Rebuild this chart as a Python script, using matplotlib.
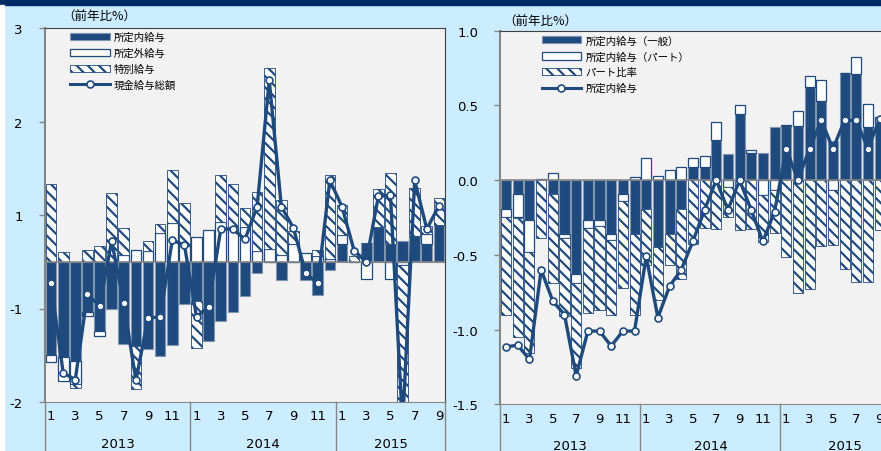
import numpy as np
import matplotlib.pyplot as plt
from matplotlib.patches import Patch, Rectangle
from matplotlib.lines import Line2D

plt.rcParams['font.family'] = ['DejaVu Sans', 'Noto Sans CJK JP']
plt.rcParams['hatch.linewidth'] = 1.6

# ---- data (left: 現金給与総額の要因分解, 2013/1 - 2015/9) ----
years = ['2013', '2014', '2015']
months = [m for m in range(1, 13)] * 2 + list(range(1, 10))

l_regular = [-1.00, -1.02, -1.06, -0.54, -0.74, -0.51, -0.88, -0.90, -0.93, -1.01, -0.89, -0.45,
             -0.42, -0.85, -0.63, -0.54, -0.37, -0.12, 0.00, -0.19, 0.00, -0.19, -0.36, -0.09,
             0.19, 0.00, 0.20, 0.37, 0.19, 0.22, 0.28, 0.19, 0.39]
l_overtime = [-0.07, -0.26, -0.25, -0.04, -0.05, 0.00, 0.07, 0.13, 0.12, 0.31, 0.41, 0.17,
              0.26, 0.34, 0.43, 0.37, 0.37, 0.11, 0.14, 0.07, 0.19, 0.09, 0.06, 0.03,
              0.10, 0.00, -0.18, 0.00, -0.18, -0.04, 0.00, 0.11, 0.00]
l_bonus = [0.83, 0.10, -0.04, 0.13, 0.17, 0.73, 0.29, -0.46, 0.10, 0.09, 0.57, 0.46,
           -0.50, 0.00, 0.50, 0.46, 0.21, 0.64, 1.93, 0.59, 0.14, 0.00, 0.07, 0.90,
           0.32, 0.06, 0.00, 0.41, 0.76, -1.70, 0.51, 0.08, 0.29]
l_total = [-0.23, -1.19, -1.26, -0.35, -0.47, 0.22, -0.44, -1.27, -0.60, -0.59, 0.23, 0.18,
           -0.59, -0.48, 0.35, 0.35, 0.24, 0.59, 1.94, 0.59, 0.36, -0.12, -0.23, 0.87,
           0.59, 0.12, 0.00, 0.70, 0.71, -1.75, 0.87, 0.35, 0.60]
l_ticks = [2.5, 1.5, 0.5, -0.5, -1.5]
l_ticklabels = ['3', '2', '1', '-1', '-2']
l_labels = ['所定内給与', '所定外給与', '特別給与', '現金給与総額']

# ---- data (right: 所定内給与の要因分解) ----
r_general = [-0.19, -0.09, -0.27, 0.00, -0.09, -0.36, -0.63, -0.27, -0.27, -0.36, -0.09, -0.36,
             -0.19, -0.45, -0.36, -0.19, 0.085, 0.085, 0.27, 0.175, 0.445, 0.18, 0.18, 0.355,
             0.365, 0.36, 0.625, 0.53, 0.265, 0.715, 0.71, 0.355, 0.385]
r_part = [-0.055, -0.16, -0.21, 0.01, 0.045, -0.027, -0.06, -0.05, -0.04, -0.04, -0.05, 0.022,
          0.15, 0.03, 0.07, 0.085, 0.065, 0.077, 0.12, -0.045, 0.055, 0.02, -0.10, -0.065,
          0.005, 0.10, 0.075, 0.14, -0.065, 0.005, 0.115, 0.155, 0.035]
r_ratio = [-0.655, -0.80, -0.675, -0.39, -0.60, -0.52, -0.57, -0.57, -0.56, -0.50, -0.585, -0.54,
           -0.38, -0.35, -0.21, -0.47, -0.43, -0.32, -0.33, -0.20, -0.335, -0.33, -0.315, -0.29,
           -0.515, -0.755, -0.73, -0.44, -0.37, -0.595, -0.68, -0.68, -0.335]
r_line = [-1.115, -1.105, -1.20, -0.60, -0.81, -0.90, -1.31, -1.01, -1.01, -1.11, -1.01, -1.01,
          -0.51, -0.92, -0.71, -0.60, -0.41, -0.20, 0.00, -0.20, 0.00, -0.20, -0.41, -0.21,
          0.21, 0.00, 0.21, 0.40, 0.21, 0.40, 0.40, 0.21, 0.41]
r_ticks = [1.0, 0.5, 0.0, -0.5, -1.0, -1.5]
r_ticklabels = ['1.0', '0.5', '0.0', '-0.5', '-1.0', '-1.5']
r_labels = ['所定内給与（一般）', '所定内給与（パート）', 'パート比率', '所定内給与']

NAVY = '#1F4A7D'
EDGE = '#7F95B2'
BG = '#CCECFF'
PLOT_BG = '#F2F2F2'
GRID = '#868686'

styles = [dict(facecolor=NAVY, edgecolor=EDGE, linewidth=0.8),
          dict(facecolor='white', edgecolor=NAVY, linewidth=0.9),
          dict(facecolor='white', edgecolor=NAVY, hatch='\\\\\\', linewidth=0.6)]


def stacked(ax, series, width):
    x = np.arange(len(series[0]))
    pos = np.zeros(len(x))
    neg = np.zeros(len(x))
    for vals, kw in zip(series, styles):
        v = np.array(vals)
        bottom = np.where(v >= 0, pos, neg)
        ax.bar(x, v, width, bottom=bottom, zorder=2, **kw)
        pos += np.clip(v, 0, None)
        neg += np.clip(v, None, 0)
    return x


def decorate(ax, nmonths, yrs_len, mon_y, yr_y, line_bottom):
    ax.set_facecolor(PLOT_BG)
    ax.axhline(0, color=GRID, lw=1.2, zorder=3)
    ax.set_xlim(-0.5, nmonths - 0.5)
    ax.set_xticks([])
    for s in ['top', 'right']:
        ax.spines[s].set_color('#404040')
        ax.spines[s].set_linewidth(0.8)
    ax.spines['left'].set_color(GRID)
    ax.spines['left'].set_linewidth(1.5)
    ax.spines['bottom'].set_color(GRID)
    ax.tick_params(axis='y', length=4, width=1, color=GRID, pad=12, labelsize=9.5)
    tr = ax.get_xaxis_transform()
    for i, m in enumerate(months):
        if m % 2 == 1:
            ax.text(i, mon_y, str(m), transform=tr, ha='center', va='center', fontsize=9.5, clip_on=False)
    start = -0.5
    for y, n in zip(years, yrs_len):
        ax.plot([start, start], [0, line_bottom], transform=tr, color=GRID, lw=1, clip_on=False)
        ax.text(start + n / 2, yr_y, y, transform=tr, ha='center', va='center', fontsize=9.5, clip_on=False)
        start += n
    ax.plot([start, start], [0, line_bottom], transform=tr, color=GRID, lw=1, clip_on=False)


def legend(ax, labels, anchor):
    handles = [Patch(**styles[0]), Patch(**styles[1]), Patch(**styles[2]),
               Line2D([], [], color=NAVY, lw=2.2, marker='o', markersize=5,
                      markerfacecolor='white', markeredgecolor=NAVY, markeredgewidth=1.2)]
    ax.legend(handles, labels, loc='upper left', bbox_to_anchor=anchor, frameon=False,
              prop={'family': 'Noto Sans CJK JP', 'size': 7.5}, handlelength=3.8, handleheight=0.7,
              handletextpad=0.4, labelspacing=0.55, borderpad=0, borderaxespad=0)


fig = plt.figure(figsize=(8.81, 4.52), dpi=100, facecolor=BG)
fig.add_artist(Rectangle((0, 1 - 6 / 452), 1, 6 / 452, transform=fig.transFigure, color='#002B66'))
fig.add_artist(Rectangle((0, 0), 4 / 881, 1 - 6 / 452, transform=fig.transFigure, color='white'))

# left panel
ax1 = fig.add_axes([45 / 881, 1 - 403 / 452, 400 / 881, 374 / 452])
x = stacked(ax1, [l_regular, l_overtime, l_bonus], 0.88)
ax1.plot(x, l_total, color=NAVY, lw=2.4, marker='o', markersize=5, markerfacecolor='white',
         markeredgecolor=NAVY, markeredgewidth=1.2, zorder=5)
ax1.set_ylim(-1.5, 2.5)
ax1.set_yticks(l_ticks)
ax1.set_yticklabels(l_ticklabels)
decorate(ax1, 33, [12, 12, 9], -0.037, -0.11, -49 / 374)
legend(ax1, l_labels, (0.0625, 0.99))
fig.text(62 / 881, 1 - 17 / 452, '（前年比%）', fontsize=9, va='center', family='Noto Sans CJK JP')

# right panel
ax2 = fig.add_axes([500.3 / 881, 1 - 405.3 / 452, 408.5 / 881, 373.6 / 452])
x = stacked(ax2, [r_general, r_part, r_ratio], 0.86)
ax2.plot(x, r_line, color=NAVY, lw=2.4, marker='o', markersize=5, markerfacecolor='white',
         markeredgecolor=NAVY, markeredgewidth=1.2, zorder=5)
ax2.set_ylim(-1.5, 1.0)
ax2.set_yticks(r_ticks)
ax2.set_yticklabels(r_ticklabels)
decorate(ax2, 35, [12, 12, 11], -0.039, -0.109, -47 / 373.6)
legend(ax2, r_labels, (0.101, 0.988))
fig.text(503 / 881, 1 - 22 / 452, '（前年比%）', fontsize=9, va='center', family='Noto Sans CJK JP')

fig.savefig('out.png', dpi=100, facecolor=BG)
